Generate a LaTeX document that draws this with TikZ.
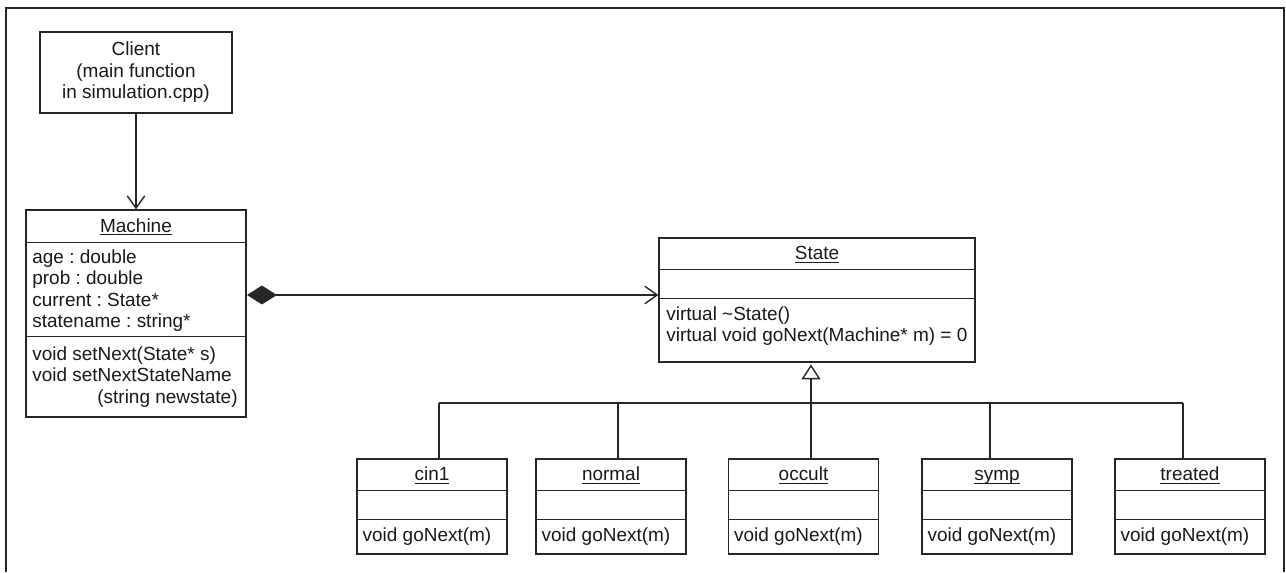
\documentclass[tikz,border=0pt]{standalone}
\usepackage{fontspec}
\setmainfont{Liberation Sans}
\frenchspacing
\usetikzlibrary{arrows.meta,calc}
\tikzset{every node/.style={font=\fontsize{10.8}{12.2}\selectfont, text=black!90},
  uml/.style={line width=0.8pt, draw=black!85},
  cls/.style={uml, draw, inner sep=0pt},
  ttl/.style={inner sep=0pt},
  txt/.style={anchor=north west, align=left, inner sep=0pt},
  assoc/.style={uml, -{Straight Barb[length=7pt,width=10pt]}}}
\newcommand\umlrules[3]{\draw[uml] ($(#1.north west)+(0,#2)$) -- ($(#1.north east)+(0,#2)$)
  ($(#1.north west)+(0,#3)$) -- ($(#1.north east)+(0,#3)$);}
\newcommand\clsname[1]{\underline{\vphantom{A}\smash{#1}}}

\begin{document}
\begin{tikzpicture}[x=0.02cm, y=-0.02cm]
  \useasboundingbox (0,0) rectangle (1286,572);
  \draw[line width=1.1pt, black!85] (6,572) -- (6,8) -- (1284,8) -- (1284,572);

  % client and machine
  \node[cls, minimum width=3.84cm, minimum height=1.62cm, align=center] (Client) at (136,72.5)
    {Client\\(main function\\in simulation.cpp)};
  \node[cls, minimum width=4.4cm, minimum height=4.14cm] (Machine) at (136,313.5) {};
  \node[ttl] (Machine-t) at (136,227.5) {\clsname{Machine}};
  \node[txt] (Machine-a) at (32,248) {\strut age : double\\\strut prob : double\\
    \strut current : State*\\\strut statename : string*};
  \node[txt] (Machine-m) at (32,345) {\strut void setNext(State* s)\\\strut void setNextStateName\\
    \strut\hspace*{37pt}(string newstate)};
  \umlrules{Machine}{33}{127}

  % abstract state
  \node[cls, minimum width=6.32cm, minimum height=2.48cm] (State) at (817,300) {};
  \node[ttl] (State-t) at (817,255) {\clsname{State}};
  \node[txt] (State-m) at (666,305) {\strut virtual \textasciitilde State()\\
    \strut virtual void goNext(Machine* m) = 0};
  \umlrules{State}{32}{61}

  \draw[assoc] (Client) -- (Machine);
  \coordinate (agg) at (247,295);
  \draw[assoc, {Diamond[length=17pt,width=10.8pt]}-{Straight Barb[length=7pt,width=10pt]}]
    (agg) -- (agg -| State.west);

  % concrete states
  \foreach \n/\cx/\lx in {cin1/432/439, normal/611/618, occult/803.5/811, symp/997/990, treated/1190/1183} {
    \node[cls, minimum width=3cm, minimum height=1.9cm] (\n) at (\cx,506.5) {};
    \node[ttl] (\n-t) at (\cx,476) {\clsname{\n}};
    \node[txt] (\n-m) at ($(\n.north west)+(6,67.5)$) {\strut void goNext(m)};
    \umlrules{\n}{32}{61}
    \coordinate (\n-c) at (\lx,403);
    \draw[uml] (\n-c) -- (\n-c |- \n.north);
  }
  \draw[uml] (cin1-c) -- (treated-c);
  \draw[uml, -{Triangle[open,length=8.5pt,width=10.8pt]}, shorten >=1pt]
    (occult-c) -- (occult-c |- State.south);
\end{tikzpicture}
\end{document}
